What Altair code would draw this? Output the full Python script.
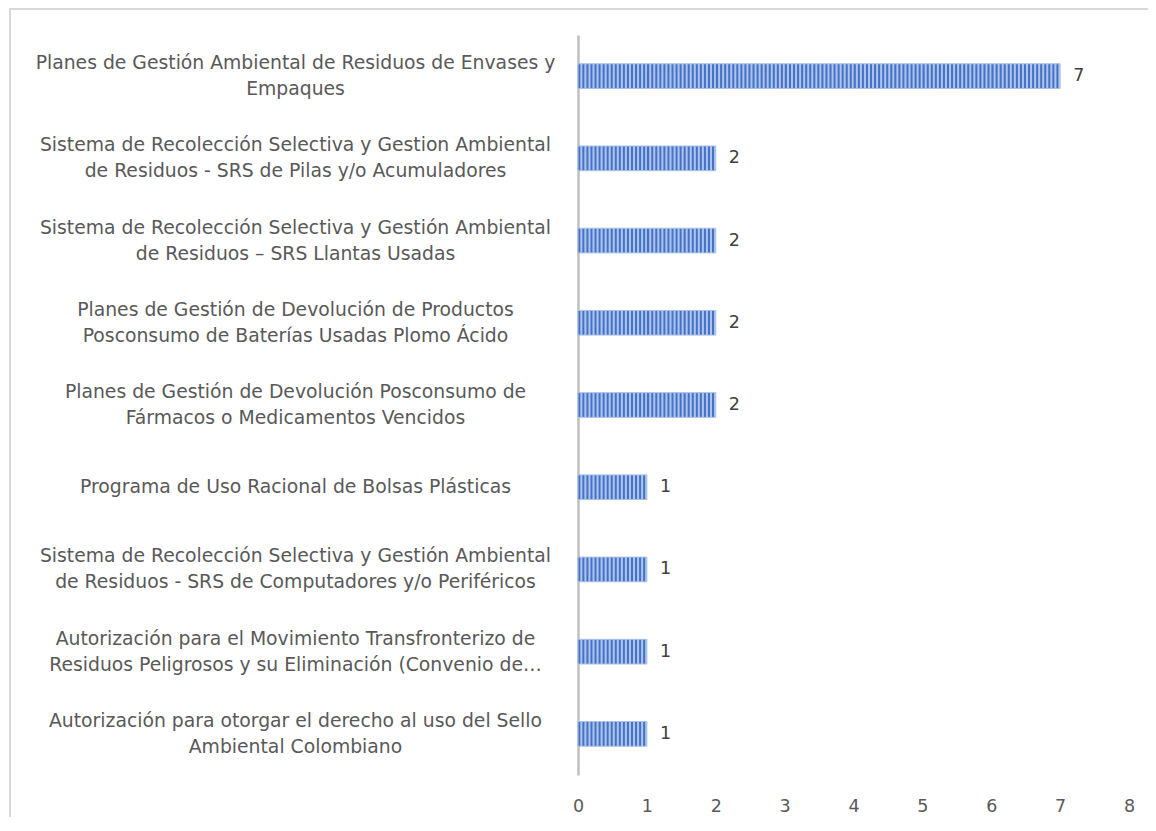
import altair as alt
import pandas as pd

categories = [
    "Planes de Gestión Ambiental de Residuos de Envases y\nEmpaques",
    "Sistema de Recolección Selectiva y Gestion Ambiental\nde Residuos - SRS de Pilas y/o Acumuladores",
    "Sistema de Recolección Selectiva y Gestión Ambiental\nde Residuos – SRS Llantas Usadas",
    "Planes de Gestión de Devolución de Productos\nPosconsumo de Baterías Usadas Plomo Ácido",
    "Planes de Gestión de Devolución Posconsumo de\nFármacos o Medicamentos Vencidos",
    "Programa de Uso Racional de Bolsas Plásticas",
    "Sistema de Recolección Selectiva y Gestión Ambiental\nde Residuos - SRS de Computadores y/o Periféricos",
    "Autorización para el Movimiento Transfronterizo de\nResiduos Peligrosos y su Eliminación (Convenio de…",
    "Autorización para otorgar el derecho al uso del Sello\nAmbiental Colombiano",
]
values = [7, 2, 2, 2, 2, 1, 1, 1, 1]
x_ticks = [0, 1, 2, 3, 4, 5, 6, 7, 8]

df = pd.DataFrame({"cat": categories, "value": values})

W, H = 551, 740
FONT = "DejaVu Sans"
FS_CAT = 18.8
FS = 17.5
DARK = "#4472c4"
LIGHT = "#aec4ee"

# stripe texture for one unit-long bar segment
n = 17
stops = []
for i in range(n):
    stops += [
        alt.GradientStop(offset=(i + 0.2) / n, color=DARK),
        alt.GradientStop(offset=(i + 0.45) / n, color=DARK),
        alt.GradientStop(offset=(i + 0.7) / n, color=LIGHT),
        alt.GradientStop(offset=(i + 0.95) / n, color=LIGHT),
    ]
stripe_fill = alt.LinearGradient(gradient="linear", stops=stops, x1=0, x2=1, y1=0, y2=0)

xscale = alt.Scale(domain=[0, 8], nice=False)
yscale = alt.Scale(paddingInner=0.7, paddingOuter=0.35)

base = alt.Chart(df)

y_enc = alt.Y(
    "cat:N",
    sort=categories,
    scale=yscale,
    title=None,
    axis=alt.Axis(
        labelExpr="split(datum.label, '\\n')",
        labelAlign="center",
        labelPadding=283,
        labelLimit=700,
        labelFont=FONT,
        labelFontSize=FS_CAT,
        labelColor="#595959",
        labelLineHeight=26,
        labelOffset={"condition": {"test": "indexof(datum.value, '\\n') >= 0", "value": -13}, "value": 0},
        ticks=False,
        domainColor="#bfbfbf",
        domainWidth=2.5,
    ),
)
x_enc = alt.X(
    "u:Q",
    scale=xscale,
    title=None,
    axis=alt.Axis(
        values=x_ticks,
        format="d",
        domain=False,
        ticks=False,
        grid=False,
        labelFlush=False,
        labelPadding=22,
        labelFont=FONT,
        labelFontSize=FS,
        labelColor="#595959",
    ),
)

segments = (
    base.transform_calculate(u="sequence(0, datum.value)")
    .transform_flatten(["u"])
    .transform_calculate(u2="datum.u + 1")
    .mark_bar(fill=stripe_fill, strokeWidth=0)
    .encode(x=x_enc, x2="u2:Q", y=y_enc)
)

outline = base.mark_bar(fillOpacity=0, stroke="#a9bfe8", strokeWidth=1).encode(
    x=alt.X("value:Q", scale=xscale), y=alt.Y("cat:N", sort=categories, scale=yscale)
)

text = base.mark_text(
    align="left", dx=13, font=FONT, fontSize=FS, color="#404040"
).encode(
    x=alt.X("value:Q", scale=xscale),
    y=alt.Y("cat:N", sort=categories, scale=yscale),
    text="value:Q",
)

border = alt.Chart(pd.DataFrame({"a": [0]})).mark_rect(
    fill="white", fillOpacity=0, stroke="#d9d9d9", strokeWidth=2
).encode(x=alt.value(-568), x2=alt.value(700), y=alt.value(-26), y2=alt.value(900))

chart = (
    alt.layer(border, segments, outline, text)
    .properties(
        width=W,
        height=H,
        padding={"left": 570, "top": 27, "right": 19, "bottom": 42},
        autosize=alt.AutoSizeParams(type="none"),
    )
    .configure_view(strokeWidth=0)
)

chart.save("out.html", embed_options={"renderer": "svg", "actions": False})
